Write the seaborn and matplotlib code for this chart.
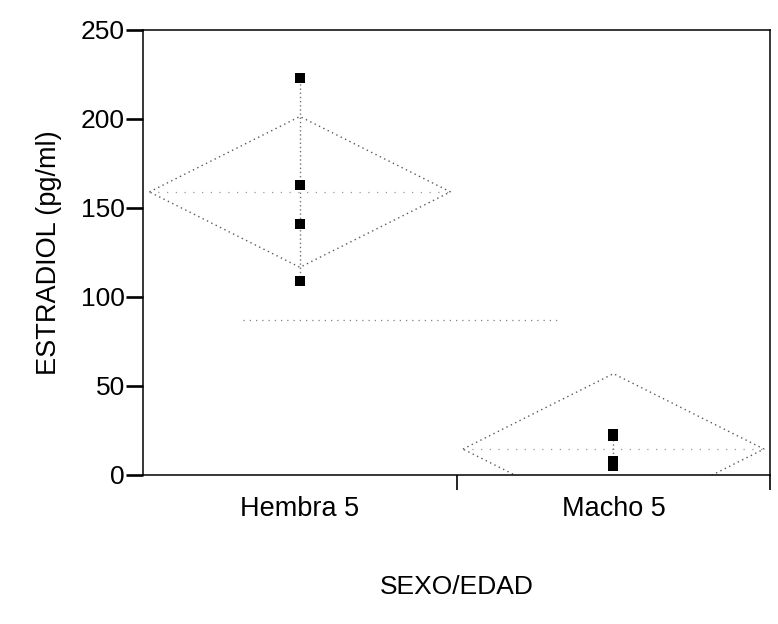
import numpy as np
import pandas as pd
import matplotlib
matplotlib.use("Agg")
import matplotlib.pyplot as plt
import seaborn as sns

# Estradiol measurements per group
categories = ["Hembra 5", "Macho 5"]
hembra_values = [223, 163, 141, 109]
macho_values = [23, 22, 8, 5]
y_ticks = [0, 50, 100, 150, 200, 250]

T_CRIT = 2.447  # t(0.975, df=6) for the pooled error term

df = pd.DataFrame({
    "grupo": [categories[0]] * len(hembra_values) + [categories[1]] * len(macho_values),
    "estradiol": hembra_values + macho_values,
})

sns.set_theme(style="white")
plt.rcParams["font.family"] = ["Liberation Sans", "DejaVu Sans"]
plt.rcParams.update({
    "text.color": "black",
    "axes.labelcolor": "black",
    "xtick.color": "black",
    "ytick.color": "black",
})

fig = plt.figure(figsize=(7.78, 6.24), dpi=100)
ax = fig.add_axes([0.184, 0.239, 0.806, 0.713])

# pooled standard error for the means diamonds
groups = [np.asarray(hembra_values, float), np.asarray(macho_values, float)]
ss = sum(((g - g.mean()) ** 2).sum() for g in groups)
dfe = sum(len(g) for g in groups) - len(groups)
mse = ss / dfe
grand_mean = np.concatenate(groups).mean()

dot = (0, (1, 2.5))
half_w = 0.48
for i, g in enumerate(groups):
    m = g.mean()
    ci = T_CRIT * np.sqrt(mse / len(g))
    xs = [i - half_w, i, i + half_w, i, i - half_w]
    ys = [m, m + ci, m, m - ci, m]
    ax.plot(xs, ys, color="0.35", lw=1.0, ls=dot, zorder=2)
    ax.plot([i - half_w, i + half_w], [m, m], color="0.6", lw=0.9, ls=(0, (1, 6)), zorder=2)
    ax.plot([i, i], [g.min(), g.max()], color="0.45", lw=1.0, ls=(0, (1, 2)), zorder=2)

ax.axhline(grand_mean, xmin=0.16, xmax=0.66, color="0.5", lw=0.9, ls=(0, (1, 4)), zorder=1)

sns.stripplot(data=df, x="grupo", y="estradiol", order=categories, jitter=False,
              marker="s", color="black", size=7, linewidth=0, ax=ax, zorder=3)

ax.set_xlim(-0.5, 1.5)
ax.set_ylim(0, 250)
ax.set_yticks(y_ticks)
ax.set_yticklabels([str(v) for v in y_ticks], fontsize=19)

# category boundaries carry the tick marks, labels sit centred between them
ax.set_xticks([0.5, 1.5])
ax.set_xticklabels([])
ax.set_xticks([0, 1], minor=True)
ax.set_xticklabels(categories, minor=True, fontsize=19.5)
ax.tick_params(axis="x", which="major", direction="out", length=11, width=1.2, color="black", bottom=True)
ax.tick_params(axis="x", which="minor", length=0, pad=15)
ax.tick_params(axis="y", direction="out", length=12, width=1.9, color="black", left=True, pad=1)

for s in ax.spines.values():
    s.set_color("black")
    s.set_linewidth(1.1)

ax.set_ylabel("ESTRADIOL (pg/ml)", fontsize=19.5)
ax.yaxis.set_label_coords(-0.129, 0.5)
ax.set_xlabel("SEXO/EDAD", fontsize=19)
ax.xaxis.set_label_coords(0.5, -0.225)

fig.savefig("out.png", dpi=100, facecolor="white")
